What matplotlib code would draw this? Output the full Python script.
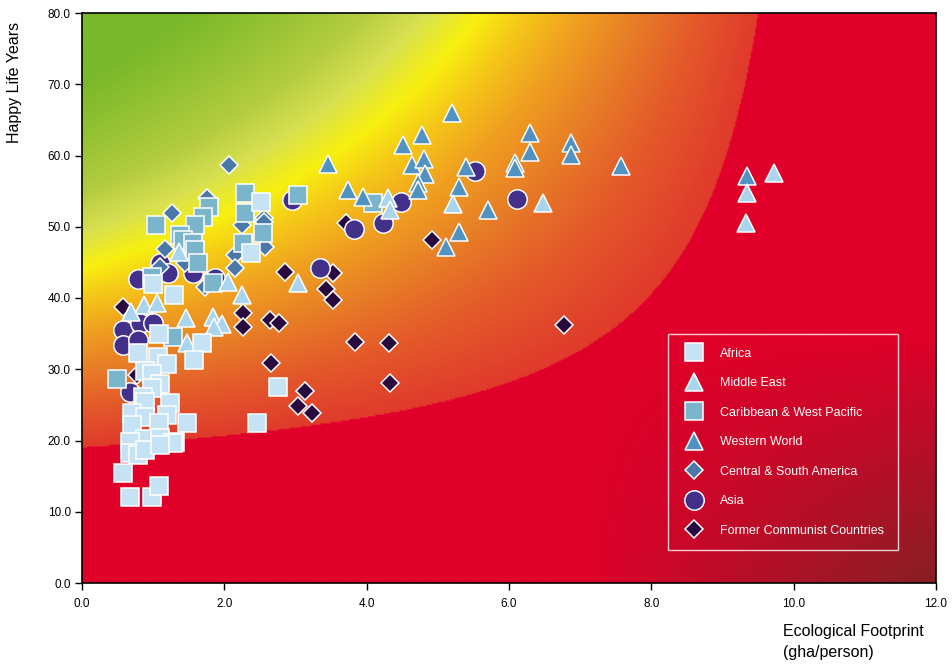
import numpy as np
import matplotlib
matplotlib.use("Agg")
import matplotlib.pyplot as plt
from matplotlib.colors import to_rgb

plt.rcParams['font.family'] = ['Liberation Sans', 'DejaVu Sans']

# data (footprint gha/person, happy life years)
africa_x = [2.52, 2.37, 1.00, 1.29, 1.08, 1.69, 0.79, 1.57, 1.07, 1.19, 0.89, 0.99, 1.10, 2.75,
            2.46, 1.48, 1.31, 0.99, 0.86, 0.89, 0.70, 1.24, 1.19, 0.89, 0.70, 1.08, 0.89, 1.10,
            0.67, 0.67, 0.79, 0.89, 0.58, 0.67, 0.98, 1.08, 1.28, 1.10]
africa_y = [53.5, 46.3, 42.0, 40.4, 34.9, 33.7, 32.3, 31.3, 31.7, 30.7, 29.8, 29.3, 27.9, 27.5,
            22.5, 22.5, 19.8, 27.4, 26.1, 25.4, 23.9, 25.3, 23.6, 23.3, 22.2, 22.5, 20.2, 20.4,
            19.8, 18.2, 18.0, 18.7, 15.4, 12.1, 12.1, 13.6, 19.6, 19.4]

mideast_x = [1.36, 2.05, 2.25, 3.04, 0.87, 1.05, 0.69, 1.46, 1.84, 1.97, 1.85, 1.48, 4.30, 4.33,
             5.21, 6.48, 9.72, 9.34, 9.33]
mideast_y = [46.5, 42.2, 40.4, 42.1, 39.0, 39.3, 38.0, 37.2, 37.3, 36.4, 35.9, 33.7, 54.0, 52.4,
             53.2, 53.3, 57.5, 54.7, 50.5]

carib_x = [2.29, 1.78, 3.04, 1.70, 1.04, 1.59, 2.29, 1.38, 1.42, 1.56, 1.59, 1.63, 2.54, 2.26,
           1.84, 0.98, 1.28, 0.49, 4.09]
carib_y = [54.7, 52.8, 54.5, 51.4, 50.2, 50.2, 51.9, 48.8, 48.1, 47.7, 46.7, 44.9, 49.1, 47.7,
           42.1, 42.9, 34.5, 28.6, 53.3]

western_x = [5.20, 4.78, 4.51, 3.46, 6.29, 6.29, 6.87, 6.87, 7.57, 4.64, 4.81, 4.82, 4.72, 4.72,
             5.40, 5.30, 6.08, 6.08, 5.70, 3.74, 3.95, 5.30, 5.11, 9.34]
western_y = [66.0, 62.9, 61.5, 58.8, 63.2, 60.5, 61.7, 60.1, 58.5, 58.7, 59.5, 57.4, 56.1, 55.2,
             58.4, 55.6, 58.9, 58.2, 52.4, 55.2, 54.2, 49.3, 47.2, 57.1]

csa_x = [2.07, 1.75, 1.27, 1.17, 2.56, 2.56, 2.25, 2.57, 2.15, 2.15, 1.73, 1.45, 1.10]
csa_y = [58.7, 54.0, 51.9, 46.9, 51.2, 50.7, 50.2, 47.2, 46.1, 44.2, 41.6, 44.9, 44.4]

asia_x = [2.95, 1.10, 1.21, 0.79, 1.56, 1.87, 0.58, 0.81, 1.00, 0.58, 0.79, 0.67, 3.34, 3.82,
          4.23, 4.48, 5.52, 6.11]
asia_y = [53.8, 44.9, 43.5, 42.7, 43.5, 42.8, 35.5, 36.5, 36.5, 33.4, 34.1, 26.8, 44.2, 49.7,
          50.5, 53.5, 57.8, 53.9]

comm_x = [2.85, 3.53, 3.43, 3.53, 2.64, 2.77, 3.84, 4.31, 6.77, 2.66, 3.13, 3.04, 3.23, 4.33,
          0.58, 2.26, 2.26, 3.71, 4.92, 0.77]
comm_y = [43.7, 43.5, 41.3, 39.7, 36.9, 36.5, 33.8, 33.7, 36.2, 30.9, 26.9, 24.8, 23.8, 28.1,
          38.7, 37.9, 35.9, 50.5, 48.1, 29.2]

xticks = [0, 2, 4, 6, 8, 10, 12]
yticks = [0, 10, 20, 30, 40, 50, 60, 70, 80]

# background field
gx = np.linspace(0, 12, 600)
gy = np.linspace(0, 80, 400)
X, Y = np.meshgrid(gx, gy)
B, C = 10.6, 12.0
A = 7.0 * B
with np.errstate(divide='ignore', invalid='ignore'):
    t = (Y - C) * (B - X) / A
t[X >= B] = -1

stops_t = [1.0, 1.8, 2.6, 3.3, 4.0, 4.6, 5.3, 6.1, 7.2, 8.4]
stops_c = ['#e03a2c', '#e45a2a', '#e88026', '#f0a020', '#f5c818', '#f8f010',
           '#d8e050', '#b4cc40', '#94c232', '#78b82a']
stops_rgb = np.array([to_rgb(c) for c in stops_c])
img = np.zeros(X.shape + (3,))
for k in range(3):
    img[..., k] = np.interp(t, stops_t, stops_rgb[:, k])

red = np.array(to_rgb('#e0002a'))
dark = np.array(to_rgb('#862024'))
d = np.clip((X - 7) / 5, 0, 1) * np.clip((35 - Y) / 35, 0, 1)
redimg = red * (1 - d[..., None]) + dark * d[..., None]
mask = t < 1
img[mask] = redimg[mask]

fig = plt.figure(figsize=(9.53, 6.72), dpi=100)
ax = fig.add_axes([82 / 953, 89 / 672, 854 / 953, 570 / 672])
ax.imshow(img, extent=[0, 12, 0, 80], origin='lower', aspect='auto', interpolation='bilinear', zorder=0)

kw = dict(linestyle='none', markeredgecolor='white', markeredgewidth=1.1)
h_comm, = ax.plot(comm_x, comm_y, marker='D', markersize=9.5, color='#2a0a3e', label='Former Communist Countries', **kw)
h_asia, = ax.plot(asia_x, asia_y, marker='o', markersize=14, color='#43308a', label='Asia', **kw)
h_csa, = ax.plot(csa_x, csa_y, marker='D', markersize=9.5, color='#4a78a8', label='Central & South America', **kw)
h_carib, = ax.plot(carib_x, carib_y, marker='s', markersize=12.5, color='#7bb5cc', label='Caribbean & West Pacific', **kw)
h_west, = ax.plot(western_x, western_y, marker='^', markersize=13, color='#5092c2', label='Western World', **kw)
h_me, = ax.plot(mideast_x, mideast_y, marker='^', markersize=13, color='#a9d5ee', label='Middle East', **kw)
h_af, = ax.plot(africa_x, africa_y, marker='s', markersize=12.5, color='#c5e3f4', label='Africa', **kw)

ax.set_xlim(0, 12)
ax.set_ylim(0, 80)
ax.set_xticks(xticks)
ax.set_xticklabels(['%.1f' % v for v in xticks])
ax.set_yticks(yticks)
ax.set_yticklabels(['%.1f' % v for v in yticks])
ax.tick_params(direction='out', length=5, width=1, labelsize=8.5)
ax.tick_params(axis='y', pad=3)
ax.tick_params(axis='x', pad=6)
for s in ax.spines.values():
    s.set_linewidth(1.2)

leg = ax.legend(handles=[h_af, h_me, h_carib, h_west, h_csa, h_asia, h_comm],
                loc='upper left', bbox_to_anchor=(0.686, 0.437), frameon=True,
                fancybox=False, facecolor='none', edgecolor='white', labelcolor='white',
                fontsize=9, labelspacing=1.4, handletextpad=1.1, borderpad=1.1,
                borderaxespad=0, markerscale=1.0)
leg.get_frame().set_linewidth(1.0)

fig.text(15 / 953, 1 - 82 / 672, 'Happy Life Years', rotation=90, ha='center', va='center', fontsize=11.5)
fig.text(783 / 953, 1 - 624 / 672, 'Ecological Footprint\n(gha/person)', ha='left', va='top',
         fontsize=11.5, linespacing=1.5)

fig.savefig('out.png', dpi=100)
